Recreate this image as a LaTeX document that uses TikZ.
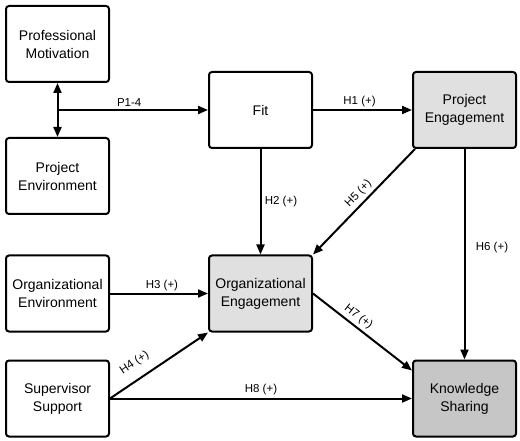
\documentclass[tikz,border=0pt]{standalone}
\usepackage{fontspec}
\setmainfont{Liberation Sans}
\usetikzlibrary{arrows.meta}
\definecolor{lightfill}{HTML}{E0E0E0}
\definecolor{darkfill}{HTML}{C6C6C6}
\begin{document}
\begin{tikzpicture}[x=1pt,y=-1pt,
  box/.style={draw=black, line width=2pt, rounded corners=3pt, minimum width=103pt, minimum height=76pt,
    align=center, font=\fontsize{14}{18}\selectfont, inner sep=2pt},
  arr/.style={line width=2pt, -{Triangle[length=10pt,width=8pt]}},
  dbl/.style={line width=2pt, {Triangle[length=10pt,width=8pt]}-{Triangle[length=10pt,width=8pt]}},
  lab/.style={font=\fontsize{11.5}{13}\selectfont}]
\useasboundingbox (0,0) rectangle (520,441);
\node[box] (pm) at (57.5,44) {Professional\\Motivation};
\node[box] (penv) at (57.5,176) {Project\\Environment};
\node[box] (fit) at (260.5,110) {Fit};
\node[box, fill=lightfill] (peng) at (464.5,110) {Project\\Engagement};
\node[box] (oenv) at (57.5,293.5) {Organizational\\Environment};
\node[box, fill=lightfill] (oeng) at (260.5,293.5) {Organizational\\Engagement};
\node[box] (ss) at (57.5,398.5) {Supervisor\\Support};
\node[box, fill=darkfill] (ks) at (464.5,398.5) {Knowledge\\Sharing};
\coordinate (j) at (pm.south |- fit.west);
\draw[dbl] (pm.south) -- (penv.north);
\draw[arr] ([xshift=-1pt]j) -- node[lab, pos=0.48, above=-1pt] (l0) {P1-4} (fit.west);
\draw[arr] (fit.east) -- node[lab, pos=0.47, above=-1pt] (l1) {H1 (+)} (peng.west);
\draw[arr] (fit.south) -- node[lab, pos=0.5, right] (l2) {H2 (+)} (oeng.north);
\draw[arr] (oenv.east) -- node[lab, pos=0.53, above=-2pt] (l3) {H3 (+)} (oeng.west);
\draw[arr] (ss.east) -- node[lab, pos=0.34, sloped, above=6pt] (l4) {H4 (+)} (oeng.south west);
\draw[arr] ([xshift=3pt]peng.south west) -- node[lab, pos=0.485, sloped, above] (l5) {H5 (+)} (oeng.north east);
\draw[arr] (peng.south) -- node[lab, pos=0.467, right=7pt] (l6) {H6 (+)} (ks.north);
\draw[arr] (oeng.east) -- node[lab, pos=0.40, sloped, above] (l7) {H7 (+)} ([yshift=-11pt]ks.north west);
\draw[arr] (ss.east) -- node[lab, pos=0.5, above=-1pt] (l8) {H8 (+)} (ks.west);
\end{tikzpicture}
\end{document}
